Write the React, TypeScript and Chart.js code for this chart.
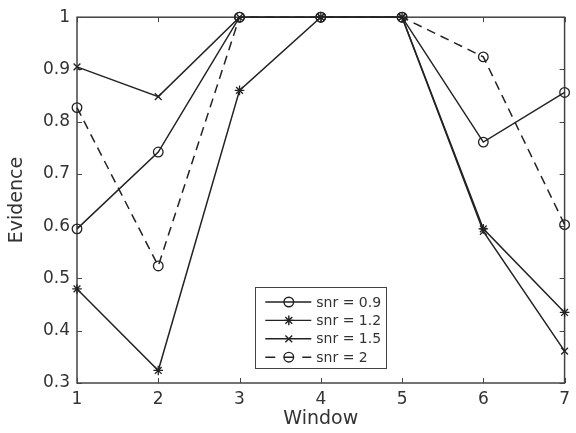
import React, { useEffect, useRef } from "react";
import { Chart, registerables } from "chart.js";
import { drawPoint } from "chart.js/helpers";

Chart.register(...registerables);

const windows = [1, 2, 3, 4, 5, 6, 7];
const snr09 = [0.595, 0.742, 1, 1, 1, 0.761, 0.856];
const snr12 = [0.48, 0.324, 0.86, 1, 1, 0.595, 0.435];
const snr15 = [0.905, 0.848, 1, 1, 1, 0.59, 0.361];
const snr2 = [0.827, 0.524, 1, 1, 1, 0.924, 0.603];
const seriesLabels = ["snr = 0.9", "snr = 1.2", "snr = 1.5", "snr = 2"];
const yTicks = [0.3, 0.4, 0.5, 0.6, 0.7, 0.8, 0.9, 1];

const LINE = "#222222";
const AXIS = "#444444";
const TEXT = "#333333";
const FONT = "'DejaVu Sans', sans-serif";

const framePlugin = {
  id: "frame",
  beforeDatasetsDraw(chart: any) {
    const { ctx, chartArea: a, scales } = chart;
    ctx.save();
    ctx.strokeStyle = AXIS;
    ctx.lineWidth = 1.5;
    ctx.strokeRect(a.left, a.top, a.right - a.left, a.bottom - a.top);
    ctx.lineWidth = 1;
    const tl = 5;
    ctx.beginPath();
    windows.forEach((w) => {
      const x = Math.round(scales.x.getPixelForValue(w)) + 0.5;
      ctx.moveTo(x, a.bottom);
      ctx.lineTo(x, a.bottom - tl);
      ctx.moveTo(x, a.top);
      ctx.lineTo(x, a.top + tl);
    });
    yTicks.forEach((v) => {
      const y = Math.round(scales.y.getPixelForValue(v)) + 0.5;
      ctx.moveTo(a.left, y);
      ctx.lineTo(a.left + tl, y);
      ctx.moveTo(a.right, y);
      ctx.lineTo(a.right - tl, y);
    });
    ctx.stroke();
    ctx.restore();
  },
};

const legendPlugin = {
  id: "boxLegend",
  afterDraw(chart: any) {
    const { ctx, chartArea: a } = chart;
    const w = 131;
    const h = 81;
    const left = (a.left + a.right) / 2 - w / 2;
    const top = a.bottom - 15 - h;
    ctx.save();
    ctx.fillStyle = "#ffffff";
    ctx.fillRect(left, top, w, h);
    ctx.strokeStyle = AXIS;
    ctx.lineWidth = 1;
    ctx.strokeRect(Math.round(left) + 0.5, Math.round(top) + 0.5, w, h);
    chart.data.datasets.forEach((ds: any, i: number) => {
      const y = top + 15 + i * 18.4;
      const cx = left + 33.5;
      ctx.strokeStyle = LINE;
      ctx.lineWidth = 1.4;
      ctx.beginPath();
      if (ds.borderDash) {
        ctx.moveTo(left + 10, y);
        ctx.lineTo(left + 20, y);
        ctx.moveTo(cx - 5, y);
        ctx.lineTo(cx + 5, y);
        ctx.moveTo(left + 47, y);
        ctx.lineTo(left + 56, y);
      } else {
        ctx.moveTo(left + 10, y);
        ctx.lineTo(left + 56, y);
      }
      ctx.stroke();
      ctx.fillStyle = "rgba(0,0,0,0)";
      ctx.strokeStyle = LINE;
      drawPoint(
        ctx,
        {
          pointStyle: ds.pointStyle,
          radius: ds.pointRadius,
          rotation: 0,
          borderWidth: 1.3,
        },
        cx,
        y
      );
      ctx.fillStyle = TEXT;
      ctx.font = `14px ${FONT}`;
      ctx.textAlign = "left";
      ctx.textBaseline = "middle";
      ctx.fillText(ds.label, left + 61, y + 1);
    });
    ctx.restore();
  },
};

function mk(label: string, values: number[], pointStyle: string, radius: number, dash?: number[]) {
  return {
    label,
    data: windows.map((w, i) => ({ x: w, y: values[i] })),
    borderColor: LINE,
    backgroundColor: "rgba(0,0,0,0)",
    pointBorderColor: LINE,
    pointBackgroundColor: "rgba(0,0,0,0)",
    borderWidth: 1.5,
    pointBorderWidth: 1.3,
    pointStyle,
    pointRadius: radius,
    borderDash: dash,
    tension: 0,
    clip: false as any,
  };
}

export default function App() {
  const ref = useRef<HTMLCanvasElement>(null);
  useEffect(() => {
    document.body.style.margin = "0";
    const chart = new Chart(ref.current as HTMLCanvasElement, {
      type: "line",
      data: {
        datasets: [
          mk(seriesLabels[0], snr09, "circle", 4.8),
          mk(seriesLabels[1], snr12, "star", 4.8),
          mk(seriesLabels[2], snr15, "crossRot", 4.8),
          mk(seriesLabels[3], snr2, "circle", 4.8, [9, 6]),
        ] as any,
      },
      options: {
        animation: false,
        responsive: false,
        layout: { padding: { top: 14, right: 6, left: 0, bottom: 0 } },
        plugins: { legend: { display: false }, tooltip: { enabled: false } },
        scales: {
          x: {
            type: "linear",
            min: 1,
            max: 7,
            grid: { display: false, drawTicks: false },
            border: { display: false },
            ticks: {
              stepSize: 1,
              padding: 6,
              color: TEXT,
              font: { family: FONT, size: 17 },
            },
            title: {
              display: true,
              text: "Window",
              color: TEXT,
              font: { family: FONT, size: 19 },
              padding: { top: 0, bottom: 3 },
            },
            afterFit(scale: any) {
              scale.height = 50;
            },
          },
          y: {
            min: 0.3,
            max: 1,
            grid: { display: false, drawTicks: false },
            border: { display: false },
            afterBuildTicks(scale: any) {
              scale.ticks = yTicks.map((v) => ({ value: v }));
            },
            ticks: {
              padding: 7,
              color: TEXT,
              font: { family: FONT, size: 17 },
              callback: (v: any) => String(Number(Number(v).toFixed(1))),
            },
            title: {
              display: true,
              text: "Evidence",
              color: TEXT,
              font: { family: FONT, size: 19 },
              padding: { top: 6, bottom: 0 },
            },
            afterFit(scale: any) {
              scale.width = 77;
            },
          },
        },
      },
      plugins: [framePlugin, legendPlugin],
    });
    return () => chart.destroy();
  }, []);
  return (
    <div style={{ width: 576, height: 433 }}>
      <canvas ref={ref} width={576} height={433} />
    </div>
  );
}
